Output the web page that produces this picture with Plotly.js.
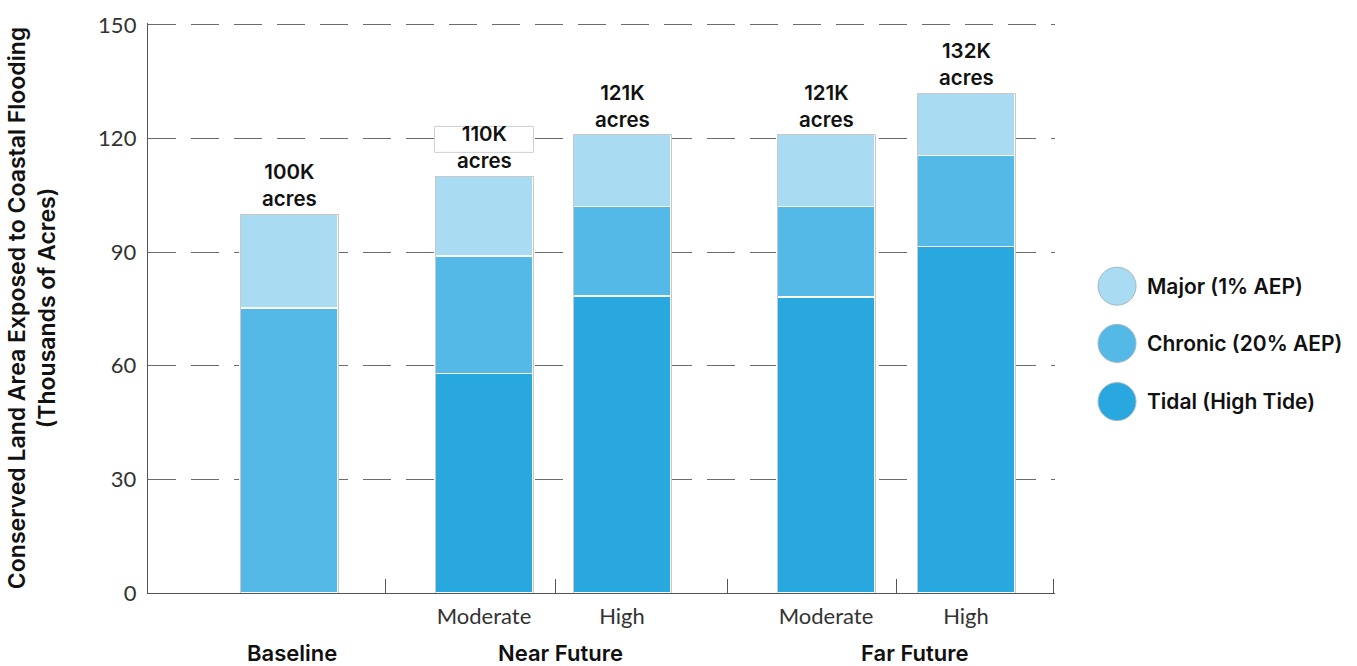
<!DOCTYPE html>
<html>
<head>
<meta charset="utf-8">
<script src="https://cdn.plot.ly/plotly-3.0.1.min.js"></script>
<style>
  html, body { margin: 0; padding: 0; background: #ffffff; }
  #chart { width: 1357px; height: 666px; }
</style>
</head>
<body>
<div id="chart"></div>
<script>
// Conserved land exposed to coastal flooding, thousands of acres
const groups    = ['Baseline', 'Near Future', 'Near Future', 'Far Future', 'Far Future'];
const scenarios = ['', 'Moderate', 'High', 'Moderate', 'High'];
const tidal     = [0, 58, 78.4, 78.2, 91.5];
const chronic   = [75.3, 31, 23.6, 23.8, 24];
const major     = [24.7, 21, 19, 19, 16.5];
const seriesNames = ['Major (1% AEP)', 'Chronic (20% AEP)', 'Tidal (High Tide)'];
const yTicks    = [0, 30, 60, 90, 120, 150];

// Slot layout along the horizontal axis
const slotX       = [1.41, 3.36, 4.74, 6.78, 8.18];
const slotEdges   = [2.37, 4.07, 5.79, 7.48, 9.05];
const groupLabelX = { 'Baseline': 1.44, 'Near Future': 4.12, 'Far Future': 7.67 };
const barWidth    = 0.98;
const xRange      = [0, 9.07];

const colors = { tidal: '#29a8df', chronic: '#55b9e7', major: '#a9dcf3' };
const boldFont  = 'Inter, "Noto Sans", sans-serif';
const lightFont = 'Lato, "Open Sans", sans-serif';

const totals = tidal.map((v, i) => v + chronic[i] + major[i]);

function segment(name, values, color) {
  return {
    type: 'bar', name: name, x: slotX, y: values, width: barWidth,
    marker: { color: color, line: { color: 'rgba(255,255,255,0.95)', width: 1.5 } },
    hoverinfo: 'y+name', showlegend: false
  };
}

const traces = [
  segment(seriesNames[2], tidal, colors.tidal),
  segment(seriesNames[1], chronic, colors.chronic),
  segment(seriesNames[0], major, colors.major),
  // thin outline around each full column, on an overlaid axis so it is not stacked
  {
    type: 'bar', x: slotX, y: totals, width: barWidth, xaxis: 'x2',
    marker: { color: 'rgba(0,0,0,0)', line: { color: '#c9c9c9', width: 1 } },
    hoverinfo: 'skip', showlegend: false
  }
];

const annotations = [];
const shapes = [];

// total labels above each column
totals.forEach((t, i) => {
  annotations.push({
    x: slotX[i], y: t, xref: 'x', yref: 'y', yanchor: 'bottom', yshift: 1,
    text: Math.round(t) + 'K<br>acres', showarrow: false,
    font: { family: boldFont, size: 20.5, color: '#111', weight: 600 }
  });
});
// white framed backing behind the label that crosses the 120 gridline
shapes.push({
  type: 'rect', xref: 'x', yref: 'y', xsizemode: 'pixel', ysizemode: 'pixel',
  xanchor: slotX[1], yanchor: totals[1], x0: -49.5, x1: 49.5, y0: 24, y1: 50,
  fillcolor: '#ffffff', line: { color: '#cfcfcf', width: 1 }, layer: 'above'
});

// group names under the scenario labels
[...new Set(groups)].forEach(g => {
  annotations.push({
    x: groupLabelX[g], y: 0, xref: 'x', yref: 'paper', yanchor: 'middle', yshift: -60,
    text: g, showarrow: false,
    font: { family: boldFont, size: 22, color: '#111', weight: 600 }
  });
});

// legend: large round swatches with labels
const legendItems = [
  { name: seriesNames[0], color: colors.major },
  { name: seriesNames[1], color: colors.chronic },
  { name: seriesNames[2], color: colors.tidal }
];
const legendY = [0.5383, 0.4379, 0.3358];
legendItems.forEach((it, k) => {
  shapes.push({
    type: 'circle', xref: 'paper', yref: 'paper',
    xsizemode: 'pixel', ysizemode: 'pixel',
    xanchor: 1.0684, yanchor: legendY[k],
    x0: -19, x1: 19, y0: -19, y1: 19,
    fillcolor: it.color, line: { color: '#9fb8c4', width: 1 }
  });
  annotations.push({
    x: 1.0992, y: legendY[k], xref: 'paper', yref: 'paper',
    xanchor: 'left', yanchor: 'middle', text: it.name, showarrow: false,
    font: { family: boldFont, size: 21, color: '#111', weight: 600 }
  });
});

const layout = {
  width: 1357, height: 666,
  margin: { l: 148, r: 302, t: 23, b: 73 },
  paper_bgcolor: '#ffffff', plot_bgcolor: '#ffffff',
  barmode: 'stack',
  showlegend: false,
  xaxis: {
    range: xRange, fixedrange: true,
    tickvals: slotEdges, ticks: 'inside', ticklen: 14, tickwidth: 1, tickcolor: '#555',
    showticklabels: false, showgrid: false, zeroline: false,
    showline: true, linecolor: '#555', linewidth: 1.2
  },
  xaxis2: {
    overlaying: 'x', range: xRange, fixedrange: true,
    tickvals: slotX, ticktext: scenarios, ticks: '', showgrid: false, zeroline: false,
    showline: false, side: 'bottom', ticklabelstandoff: 8,
    tickfont: { family: lightFont, size: 22, color: '#333' }
  },
  yaxis: {
    range: [0, 150.5], fixedrange: true,
    tickvals: yTicks, ticks: '',
    showgrid: true, gridcolor: '#6b6b6b', gridwidth: 1.2, griddash: '28px,15px',
    zeroline: false, showline: true, linecolor: '#555', linewidth: 1.2,
    tickfont: { family: lightFont, size: 22, color: '#333' },
    ticklabelstandoff: 6,
    title: {
      text: 'Conserved Land Area Exposed to Coastal Flooding<br>(Thousands of Acres)',
      font: { family: boldFont, size: 23, color: '#111', weight: 600 },
      standoff: 36
    }
  },
  annotations: annotations,
  shapes: shapes
};

Plotly.newPlot('chart', traces, layout, { displayModeBar: false, staticPlot: true });
</script>
</body>
</html>
